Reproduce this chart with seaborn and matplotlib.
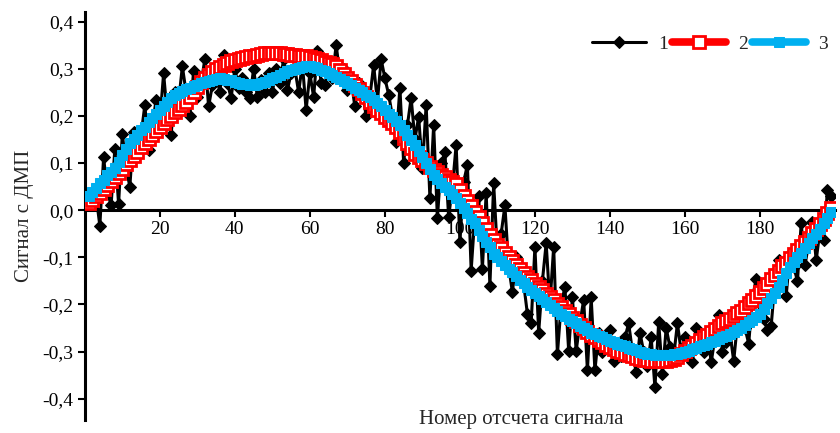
import matplotlib
matplotlib.use("Agg")
import matplotlib.pyplot as plt
import seaborn as sns
from matplotlib.ticker import FuncFormatter

# sample numbers (x axis)
sample_no = list(range(1, 200))

# 1 - raw signal from the sensor (noisy)
signal_raw = [
    0.030, 0.035, 0.030, -0.033, 0.112, 0.040, 0.010, 0.130, 0.013, 0.162,
    0.090, 0.050, 0.165, 0.120, 0.160, 0.223, 0.128, 0.180, 0.234, 0.190,
    0.290, 0.200, 0.160, 0.250, 0.230, 0.305, 0.250, 0.200, 0.295, 0.240,
    0.270, 0.320, 0.220, 0.265, 0.290, 0.250, 0.330, 0.270, 0.238, 0.300,
    0.260, 0.280, 0.250, 0.238, 0.300, 0.240, 0.275, 0.250, 0.290, 0.250,
    0.300, 0.270, 0.320, 0.255, 0.290, 0.300, 0.250, 0.310, 0.213, 0.290,
    0.240, 0.338, 0.270, 0.266, 0.300, 0.280, 0.350, 0.290, 0.300, 0.255,
    0.275, 0.220, 0.270, 0.250, 0.200, 0.240, 0.308, 0.230, 0.320, 0.280,
    0.245, 0.200, 0.145, 0.260, 0.100, 0.180, 0.238, 0.150, 0.198, 0.090,
    0.223, 0.026, 0.180, -0.017, 0.100, 0.123, -0.015, 0.050, 0.138, -0.068,
    0.060, 0.096, -0.128, -0.010, 0.030, -0.124, 0.036, -0.160, 0.057, -0.090,
    -0.050, 0.010, -0.120, -0.174, -0.100, -0.140, -0.156, -0.220, -0.240, -0.078,
    -0.260, -0.150, -0.070, -0.200, -0.078, -0.305, -0.200, -0.163, -0.298, -0.185,
    -0.298, -0.240, -0.190, -0.340, -0.185, -0.340, -0.260, -0.300, -0.280, -0.255,
    -0.320, -0.290, -0.310, -0.270, -0.240, -0.300, -0.344, -0.260, -0.300, -0.330,
    -0.270, -0.376, -0.238, -0.347, -0.250, -0.290, -0.310, -0.240, -0.300, -0.270,
    -0.290, -0.323, -0.250, -0.280, -0.300, -0.260, -0.323, -0.270, -0.223, -0.300,
    -0.280, -0.260, -0.320, -0.240, -0.209, -0.250, -0.283, -0.187, -0.145, -0.200,
    -0.230, -0.255, -0.245, -0.150, -0.106, -0.150, -0.181, -0.092, -0.120, -0.150,
    -0.028, -0.117, -0.070, -0.025, -0.106, -0.043, -0.064, 0.043, 0.030,
]

# 2 - filtered signal (red)
signal_filt2 = [
    0.015, 0.022, 0.029, 0.036, 0.044, 0.053, 0.061, 0.070, 0.079, 0.088,
    0.097, 0.106, 0.115, 0.124, 0.133, 0.142, 0.151, 0.160, 0.168, 0.177,
    0.185, 0.193, 0.200, 0.208, 0.215, 0.222, 0.230, 0.240, 0.251, 0.262,
    0.271, 0.280, 0.287, 0.293, 0.299, 0.304, 0.308, 0.312, 0.316, 0.319,
    0.321, 0.323, 0.325, 0.326, 0.328, 0.330, 0.332, 0.334, 0.334, 0.334,
    0.334, 0.333, 0.332, 0.331, 0.330, 0.329, 0.328, 0.327, 0.326, 0.324,
    0.322, 0.320, 0.318, 0.315, 0.312, 0.309, 0.305, 0.297, 0.289, 0.281,
    0.274, 0.266, 0.257, 0.248, 0.239, 0.229, 0.220, 0.213, 0.206, 0.198,
    0.191, 0.184, 0.177, 0.166, 0.154, 0.143, 0.131, 0.120, 0.113, 0.106,
    0.099, 0.092, 0.085, 0.080, 0.075, 0.070, 0.065, 0.060, 0.055, 0.043,
    0.031, 0.020, 0.008, -0.003, -0.015, -0.027, -0.040, -0.052, -0.064, -0.073,
    -0.081, -0.090, -0.099, -0.107, -0.116, -0.125, -0.133, -0.142, -0.149, -0.156,
    -0.163, -0.170, -0.177, -0.184, -0.191, -0.198, -0.205, -0.213, -0.220, -0.228,
    -0.235, -0.243, -0.250, -0.258, -0.265, -0.270, -0.275, -0.280, -0.285, -0.290,
    -0.294, -0.298, -0.301, -0.304, -0.307, -0.310, -0.313, -0.315, -0.317, -0.318,
    -0.319, -0.320, -0.320, -0.320, -0.319, -0.318, -0.316, -0.312, -0.305, -0.298,
    -0.292, -0.287, -0.281, -0.276, -0.270, -0.264, -0.258, -0.252, -0.246, -0.240,
    -0.235, -0.230, -0.224, -0.219, -0.213, -0.205, -0.197, -0.190, -0.182, -0.174,
    -0.165, -0.156, -0.146, -0.137, -0.128, -0.119, -0.111, -0.102, -0.094, -0.085,
    -0.076, -0.067, -0.058, -0.049, -0.040, -0.029, -0.018, -0.006, 0.005,
]

# 3 - filtered signal (blue)
signal_filt3 = [
    0.030, 0.038, 0.047, 0.057, 0.065, 0.074, 0.082, 0.090, 0.103, 0.116,
    0.129, 0.142, 0.151, 0.160, 0.169, 0.177, 0.186, 0.195, 0.204, 0.212,
    0.221, 0.229, 0.237, 0.245, 0.249, 0.253, 0.257, 0.260, 0.263, 0.266,
    0.269, 0.272, 0.274, 0.276, 0.278, 0.280, 0.279, 0.277, 0.275, 0.272,
    0.270, 0.268, 0.267, 0.266, 0.266, 0.267, 0.269, 0.272, 0.276, 0.280,
    0.283, 0.287, 0.291, 0.295, 0.298, 0.300, 0.302, 0.304, 0.305, 0.305,
    0.303, 0.301, 0.298, 0.295, 0.291, 0.287, 0.283, 0.279, 0.274, 0.269,
    0.265, 0.260, 0.255, 0.250, 0.244, 0.239, 0.234, 0.227, 0.220, 0.212,
    0.205, 0.198, 0.190, 0.180, 0.169, 0.159, 0.148, 0.138, 0.126, 0.113,
    0.101, 0.088, 0.075, 0.066, 0.058, 0.050, 0.042, 0.034, 0.026, 0.015,
    0.004, -0.007, -0.018, -0.028, -0.041, -0.054, -0.067, -0.079, -0.092, -0.100,
    -0.108, -0.116, -0.124, -0.132, -0.140, -0.148, -0.155, -0.163, -0.169, -0.176,
    -0.182, -0.188, -0.195, -0.201, -0.207, -0.214, -0.220, -0.225, -0.230, -0.235,
    -0.240, -0.245, -0.250, -0.255, -0.260, -0.263, -0.267, -0.270, -0.273, -0.277,
    -0.280, -0.283, -0.286, -0.289, -0.292, -0.295, -0.297, -0.300, -0.302, -0.304,
    -0.305, -0.307, -0.308, -0.308, -0.308, -0.307, -0.306, -0.305, -0.303, -0.300,
    -0.298, -0.295, -0.292, -0.289, -0.286, -0.283, -0.280, -0.277, -0.273, -0.270,
    -0.266, -0.262, -0.258, -0.254, -0.250, -0.244, -0.238, -0.232, -0.226, -0.220,
    -0.209, -0.197, -0.186, -0.175, -0.163, -0.149, -0.134, -0.120, -0.110, -0.100,
    -0.090, -0.080, -0.070, -0.060, -0.050, -0.039, -0.027, -0.016, -0.004,
]

x_ticks = [20, 40, 60, 80, 100, 120, 140, 160, 180]
y_ticks = [-0.4, -0.3, -0.2, -0.1, 0.0, 0.1, 0.2, 0.3, 0.4]

sns.set_style("white")
plt.rcParams["font.family"] = ["Liberation Serif", "DejaVu Serif"]

fig = plt.figure(figsize=(8.4, 4.33), dpi=100)
ax = fig.add_axes([0.101, 0.030, 0.893, 0.942])

sns.lineplot(x=sample_no, y=signal_raw, ax=ax, color="black", lw=2.2,
             marker="D", ms=6, mec="black", mfc="black", label="1", zorder=2)
sns.lineplot(x=sample_no, y=signal_filt2, ax=ax, color="#FF0000", lw=5.5,
             marker="s", ms=8.5, mfc="white", mec="#FF0000", mew=2,
             label="2", zorder=3)
sns.lineplot(x=sample_no, y=signal_filt3, ax=ax, color="#00B0F0", lw=5.5,
             marker="s", ms=7, mfc="#00B0F0", mec="#00B0F0", label="3",
             zorder=4)

# axes: y axis at x=0, x axis crossing at y=0
ax.set_xlim(0, 200)
ax.set_ylim(-0.445, 0.42)
ax.spines["bottom"].set_position(("data", 0))
ax.spines["top"].set_visible(False)
ax.spines["right"].set_visible(False)
for s in ["left", "bottom"]:
    ax.spines[s].set_linewidth(2.2)
    ax.spines[s].set_color("black")

ax.set_xticks(x_ticks)
ax.set_yticks(y_ticks)
ax.yaxis.set_major_formatter(FuncFormatter(lambda v, p: f"{v:.1f}".replace(".", ",")))
ax.tick_params(axis="both", bottom=True, left=True, direction="out",
               length=5, width=1.5, labelsize=14, colors="black", pad=3)

ax.set_ylabel("Сигнал с ДМП", fontsize=15, labelpad=6)
ax.set_xlabel("")
fig.text(0.62, 0.032, "Номер отсчета сигнала", fontsize=15,
         ha="center", va="center")

ax.legend(loc="center right", bbox_to_anchor=(0.985, 1 - 44 / 433),
          bbox_transform=fig.transFigure, ncol=3, frameon=False,
          handlelength=2.8, handletextpad=0.6, columnspacing=0.2,
          fontsize=14, borderpad=0, borderaxespad=0)

plt.savefig("out.png", dpi=100, facecolor="white")
